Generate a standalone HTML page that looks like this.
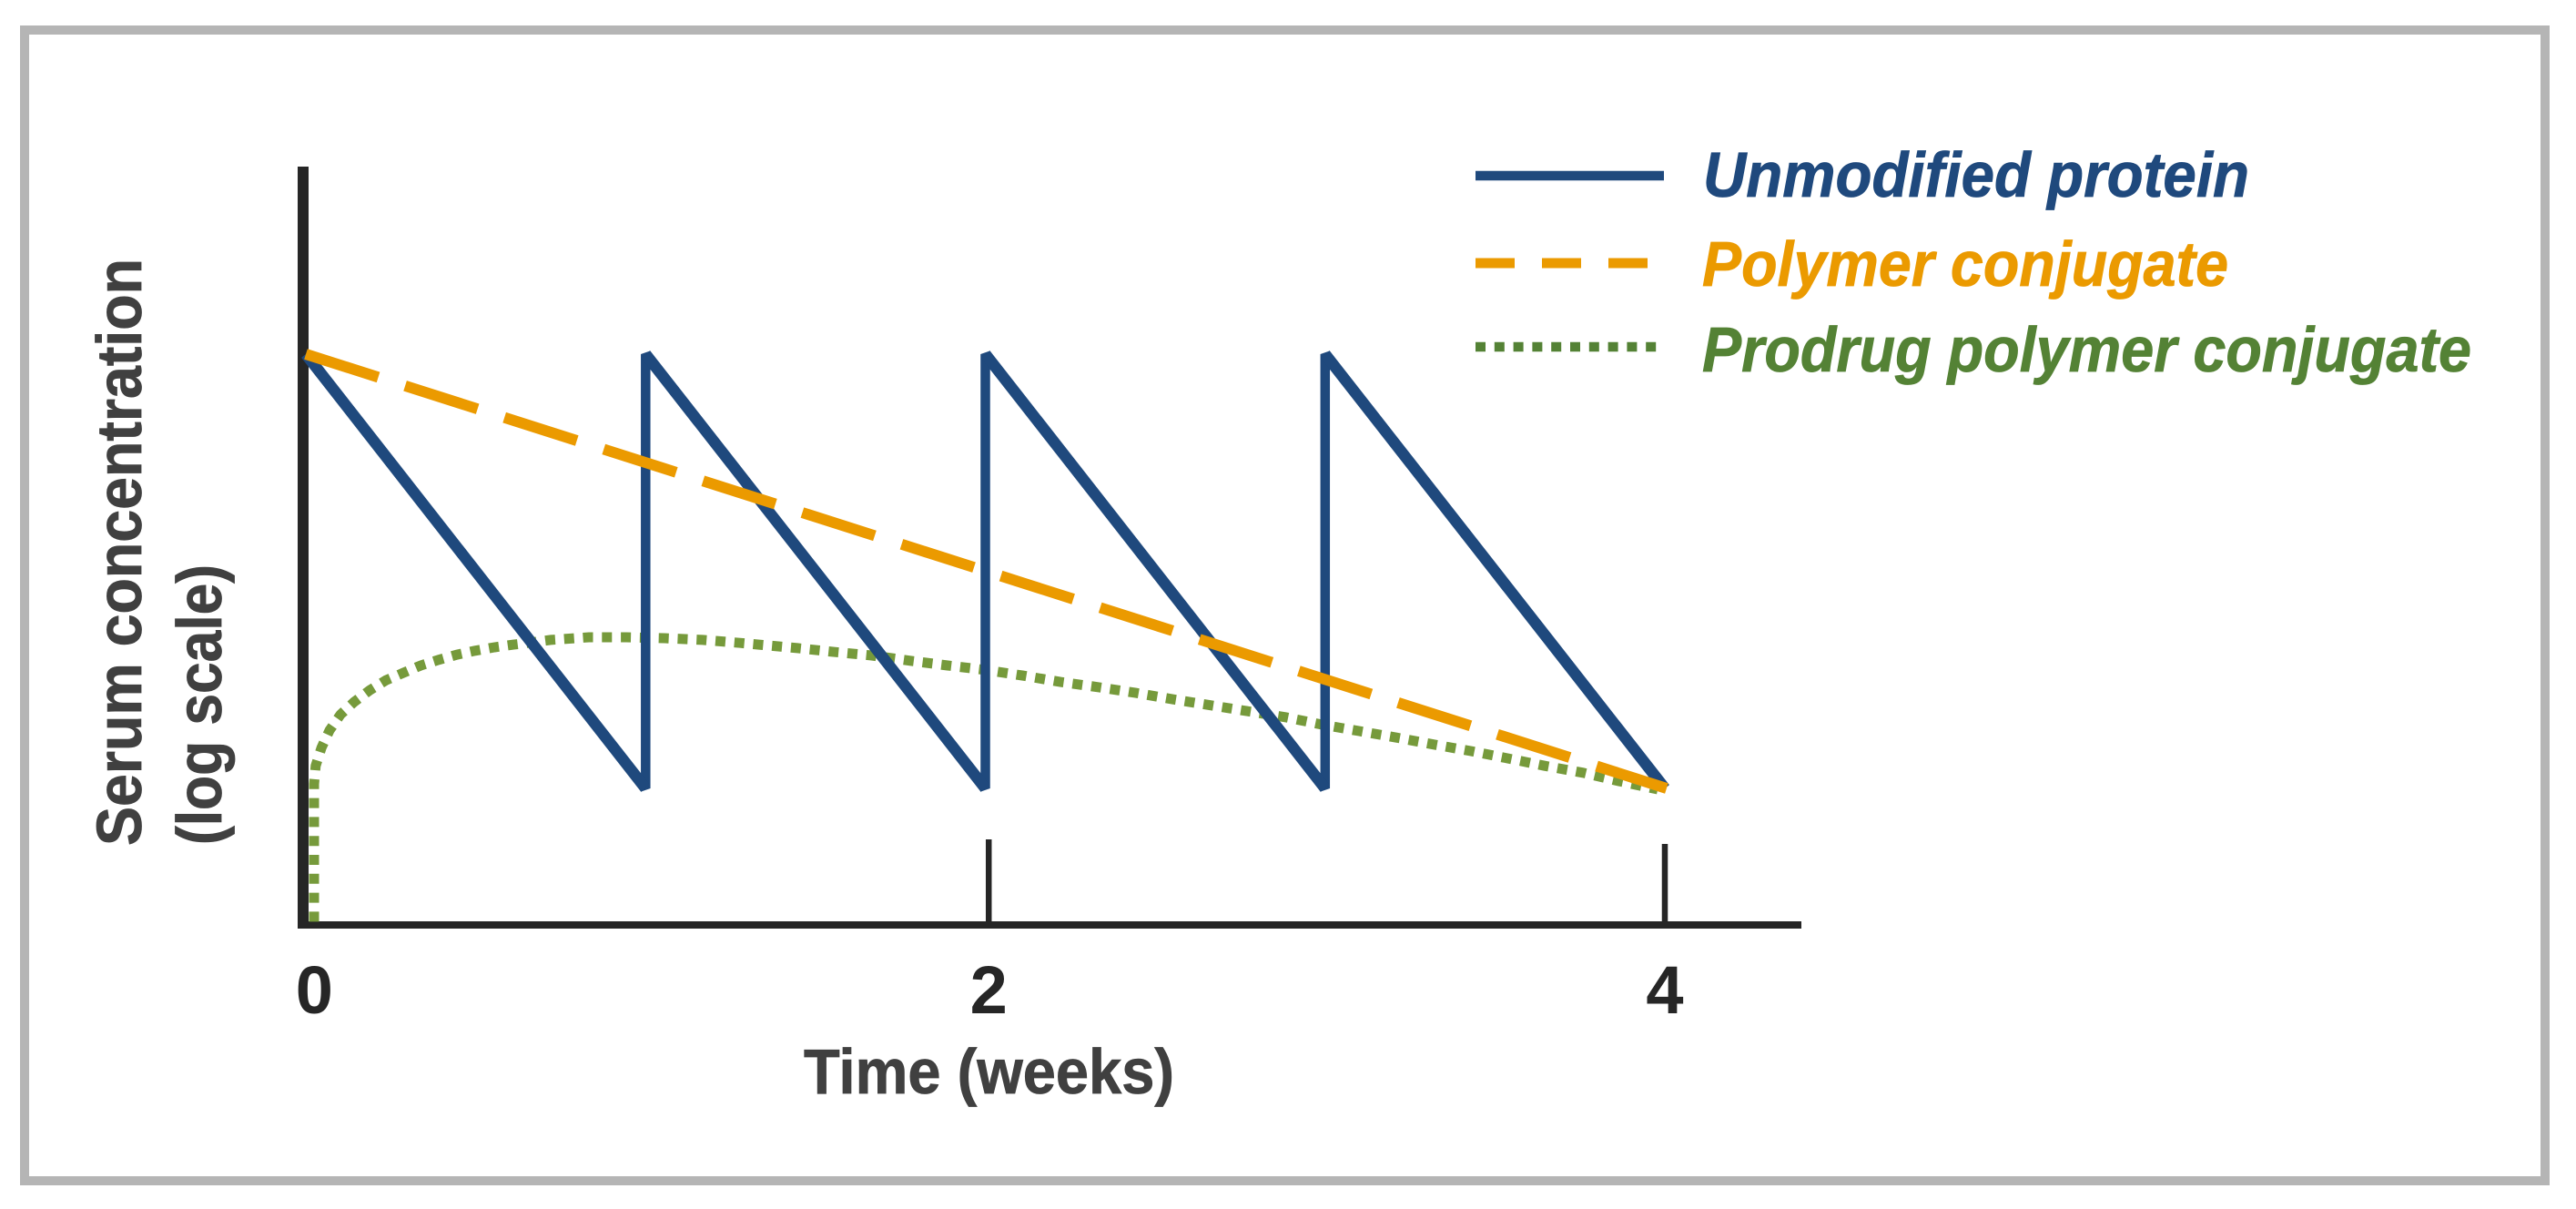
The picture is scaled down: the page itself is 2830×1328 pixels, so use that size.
<!DOCTYPE html>
<html lang="en">
<head>
<meta charset="utf-8">
<title>Serum concentration over time</title>
<style>
html,body{margin:0;padding:0;background:#fff;}
svg{display:block;}
text{font-family:"Liberation Sans",sans-serif;font-weight:bold;stroke-width:0.8;paint-order:stroke;}
</style>
</head>
<body>
<svg id="chart" xmlns="http://www.w3.org/2000/svg" width="2830" height="1328" viewBox="0 0 2830 1328">
  <rect x="0" y="0" width="2830" height="1328" fill="#ffffff"/>
  <rect x="27" y="33" width="2769" height="1264" fill="none" stroke="#b5b5b5" stroke-width="10"/>

  <g id="axes"></g>
  <g id="marks"></g>
  <g id="tick-labels"></g>

  <text x="883" y="1201" font-size="70" fill="#404040" stroke="#404040" textLength="407" lengthAdjust="spacingAndGlyphs">Time (weeks)</text>
  <text transform="translate(155 929) rotate(-90)" font-size="70" fill="#404040" stroke="#404040" textLength="645" lengthAdjust="spacingAndGlyphs">Serum concentration</text>
  <text transform="translate(243 928) rotate(-90)" font-size="70" fill="#404040" stroke="#404040" textLength="308" lengthAdjust="spacingAndGlyphs">(log scale)</text>

  <g>
    <g>
      <line x1="1621" y1="193" x2="1828" y2="193" stroke="#1f497d" stroke-width="10.5"/>
      <text x="1871" y="216" font-size="70" font-style="italic" fill="#1f497d" stroke="#1f497d" textLength="600" lengthAdjust="spacingAndGlyphs">Unmodified protein</text>
    </g>
    <g>
      <line x1="1621" y1="289" x2="1810" y2="289" stroke="#eb9a00" stroke-width="11" stroke-dasharray="43 30"/>
      <text x="1870" y="314" font-size="70" font-style="italic" fill="#eb9a00" stroke="#eb9a00" textLength="578" lengthAdjust="spacingAndGlyphs">Polymer conjugate</text>
    </g>
    <g>
      <line x1="1621" y1="381" x2="1821" y2="381" stroke="#548235" stroke-width="10.5" stroke-dasharray="11 9.8"/>
      <text x="1870" y="408" font-size="70" font-style="italic" fill="#548235" stroke="#548235" textLength="845" lengthAdjust="spacingAndGlyphs">Prodrug polymer conjugate</text>
    </g>
  </g>
</svg>
<script>
// Time in weeks; concentration stored as log10 of arbitrary units.
const tickWeeks = [2.01, 4];
const tickLabelWeeks = [0.025, 2.01, 4];
const tickLabels = ['0', '2', '4'];

const unmodifiedWeeks = [0, 1, 1, 2, 2, 3, 3, 4];
const unmodifiedLogConc = [2, 1, 2, 1, 2, 1, 2, 1];

const polymerWeeks = [0, 4.005];
const polymerLogConc = [2, 1];

const prodrugWeeks = [0.024, 0.024, 0.029, 0.046, 0.070, 0.102, 0.142, 0.188, 0.236, 0.287, 0.338, 0.391, 0.445, 0.498, 0.555, 0.611, 0.721, 0.833, 0.943, 1.056, 1.168, 1.278, 1.334, 1.447, 1.557, 1.666, 1.779, 1.889, 1.999, 2.109, 2.221, 2.334, 2.443, 2.553, 2.770, 2.883, 2.990, 3.100, 3.210, 3.320, 3.429, 3.539, 3.646, 3.759, 3.863, 3.979];
const prodrugLogConc = [0.693, 1.010, 1.052, 1.094, 1.134, 1.170, 1.199, 1.226, 1.249, 1.266, 1.283, 1.296, 1.308, 1.317, 1.325, 1.331, 1.342, 1.348, 1.348, 1.346, 1.342, 1.335, 1.331, 1.323, 1.314, 1.306, 1.294, 1.283, 1.273, 1.260, 1.245, 1.233, 1.220, 1.205, 1.178, 1.164, 1.147, 1.132, 1.117, 1.101, 1.086, 1.069, 1.052, 1.036, 1.017, 0.998];

const NS = 'http://www.w3.org/2000/svg';
const xScale = w => 336 + 373.25 * w;
const yScale = l => 866 - (l - 1) * 477;

function make(tag, attrs) {
  const el = document.createElementNS(NS, tag);
  for (const k in attrs) el.setAttribute(k, attrs[k]);
  return el;
}
function toPoints(weeks, logs) {
  return weeks.map((w, i) => xScale(w).toFixed(1) + ',' + yScale(logs[i]).toFixed(1)).join(' ');
}

const axes = document.getElementById('axes');
const marks = document.getElementById('marks');
const labels = document.getElementById('tick-labels');

const yAxis = make('line', {x1: 333, y1: 183, x2: 333, y2: 1020, stroke: '#262626', 'stroke-width': 12});


axes.appendChild(yAxis);

const xAxis = make('line', {x1: 327, y1: 1016, x2: 1979, y2: 1016, stroke: '#262626', 'stroke-width': 8});


axes.appendChild(xAxis);

tickWeeks.forEach((w, i) => {
  const tick = make('line', {x1: xScale(w), y1: i === 0 ? 922 : 927, x2: xScale(w), y2: 1012, stroke: '#262626', 'stroke-width': 6.5});
  
  
  axes.appendChild(tick);
});

tickLabels.forEach((t, i) => {
  const label = make('text', {x: xScale(tickLabelWeeks[i]), y: 1113, 'font-size': 74, 'text-anchor': 'middle', fill: '#262626'});
  
  
  label.textContent = t;
  labels.appendChild(label);
});

const prodrugLine = make('polyline', {points: toPoints(prodrugWeeks, prodrugLogConc), fill: 'none', stroke: '#769a3b', 'stroke-width': 11, 'stroke-dasharray': '11 9.8'});


marks.appendChild(prodrugLine);

const unmodifiedBase = make('polyline', {points: toPoints(unmodifiedWeeks, unmodifiedLogConc), fill: 'none', stroke: '#1f497d', 'stroke-width': 10.5, 'stroke-linejoin': 'bevel'});


marks.appendChild(unmodifiedBase);

unmodifiedWeeks.slice(1).forEach((w, i) => {
  if (w === unmodifiedWeeks[i]) return;
  const segment = make('line', {x1: xScale(unmodifiedWeeks[i]), y1: yScale(unmodifiedLogConc[i]), x2: xScale(w), y2: yScale(unmodifiedLogConc[i + 1]), stroke: '#1f497d', 'stroke-width': 12.5});
  
  
  marks.appendChild(segment);
});

const polymerLine = make('polyline', {points: toPoints(polymerWeeks, polymerLogConc), fill: 'none', stroke: '#eb9a00', 'stroke-width': 12, 'stroke-dasharray': '83.5 31'});


marks.appendChild(polymerLine);
</script>
</body>
</html>
